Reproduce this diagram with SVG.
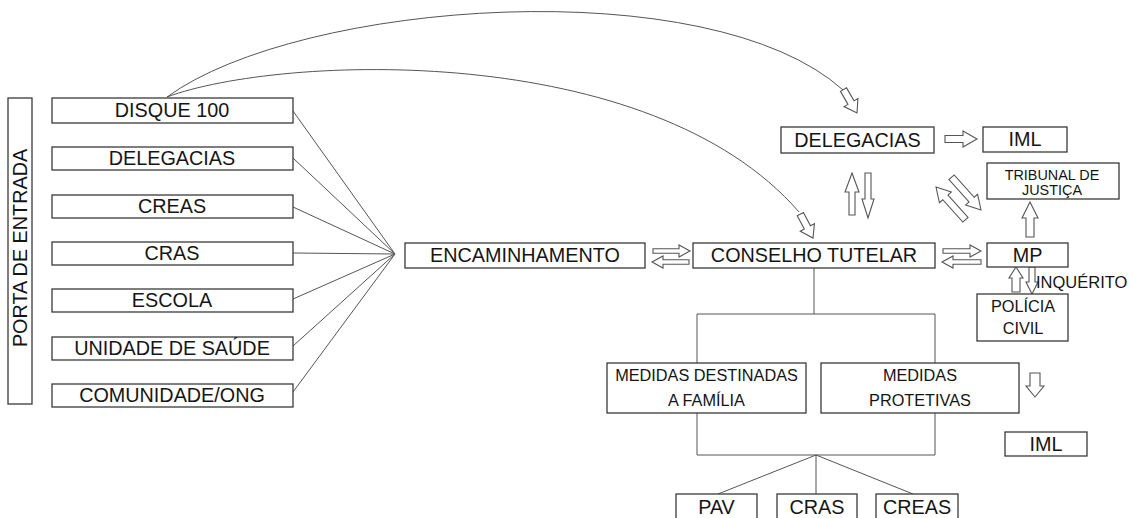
<svg xmlns="http://www.w3.org/2000/svg" width="1132" height="518" viewBox="0 0 1132 518">
<style>
.box{fill:#fff;stroke:#3a3a3a;stroke-width:1.3}
.t{font-family:"Liberation Sans",Arial,sans-serif;fill:#151515;text-anchor:middle}
.t19{font-size:19.8px}
.t16{font-size:16.3px}
.t14{font-size:14.4px}
.ln{fill:none;stroke:#555;stroke-width:1}
.ha{fill:#fff;stroke:#555;stroke-width:1.1;stroke-linejoin:miter}
</style>
<defs>
<path id="ca" d="M0,0 L-12,-8 L-12,-3.5 L-27,-3.5 L-27,3.5 L-12,3.5 L-12,8 Z"/>
<path id="da" d="M0,0 L-14,-8 L-14,-3.5 L-44,-3.5 L-44,3.5 L-14,3.5 L-14,8 Z"/>
</defs>
<rect width="1132" height="518" fill="#fff"/>

<g id="connectors">
  <path class="ln" d="M293,111 L395,254 M293,158 L395,254 M293,207 L395,254 M293,253 L395,254 M293,299 L395,254 M293,346 L395,254 M293,392 L395,254"/>
  <path class="ln" d="M167,97 C300,0 710,-30 843,90"/>
  <path class="ln" d="M167,97 C280,55 650,40 799,212"/>
  <use href="#ca" class="ha" transform="translate(857,113) rotate(60)"/>
  <use href="#ca" class="ha" transform="translate(813,238) rotate(62)"/>
  <polygon class="ha" points="653,248.8 679,248.8 679,245 690,251 679,257 679,253.2 653,253.2"/>
  <polygon class="ha" points="652,262 663,256 663,259.8 689,259.8 689,264.2 663,264.2 663,268"/>
  <polygon class="ha" points="943,248.8 970,248.8 970,245 981,251 970,257 970,253.2 943,253.2"/>
  <polygon class="ha" points="942,262 953,256 953,259.8 981,259.8 981,264.2 953,264.2 953,268"/>
  <polygon class="ha" points="945,135.5 963,135.5 963,131 977,139 963,147 963,142.5 945,142.5"/>
  <polygon class="ha" points="852,173 859,192 855,192 855,215 849,215 849,192 845,192"/>
  <polygon class="ha" points="868,218 874,199 871,199 871,173 865,173 865,199 862,199"/>
  <use href="#da" class="ha" transform="translate(981,210) rotate(48)"/>
  <use href="#da" class="ha" transform="translate(936,187) rotate(228)"/>
  <polygon class="ha" points="1030,202 1038,218 1034,218 1034,237 1026,237 1026,218 1022,218"/>
  <polygon class="ha" points="1016,267 1023,278 1020,278 1020,292 1012,292 1012,278 1009,278"/>
  <polygon class="ha" points="1029,267 1035,267 1035,282 1038,282 1032,294 1026,282 1029,282"/>
  <polygon class="ha" points="1030,373 1040,373 1040,386 1044,386 1035,397 1026,386 1030,386"/>
  <path class="ln" d="M814,268 L814,314 M697,314 L935,314 M697,314 L697,363 M935,314 L935,363"/>
  <path class="ln" d="M697,413 L697,455 M935,413 L935,455 M697,455 L935,455 M816,455 L816,494 M816,455 L718,494 M816,455 L913,494"/>
</g>

<g id="porta"><rect class="box" x="8" y="98" width="24" height="306"/>
<text class="t t19" transform="translate(27,248) rotate(-90)">PORTA DE ENTRADA</text></g>

<g id="disque"><rect class="box" x="52" y="98" width="241" height="25"/><text class="t t19" x="172" y="116.5">DISQUE 100</text></g>
<g id="delegacias-l"><rect class="box" x="52" y="147" width="241" height="23"/><text class="t t19" x="172" y="164.5">DELEGACIAS</text></g>
<g id="creas-l"><rect class="box" x="52" y="195" width="241" height="23"/><text class="t t19" x="172" y="212.5">CREAS</text></g>
<g id="cras-l"><rect class="box" x="52" y="242" width="241" height="23"/><text class="t t19" x="172" y="259.5">CRAS</text></g>
<g id="escola"><rect class="box" x="52" y="289" width="241" height="23"/><text class="t t19" x="172" y="306.5">ESCOLA</text></g>
<g id="unidade"><rect class="box" x="52" y="337" width="241" height="23"/><text class="t t19" x="172" y="354.5">UNIDADE DE SAÚDE</text></g>
<g id="comunidade"><rect class="box" x="52" y="384" width="241" height="23"/><text class="t t19" x="172" y="401.5">COMUNIDADE/ONG</text></g>

<g id="encaminhamento"><rect class="box" x="405" y="243" width="240" height="25"/><text class="t t19" x="525" y="262">ENCAMINHAMENTO</text></g>
<g id="conselho"><rect class="box" x="693" y="243" width="242" height="25"/><text class="t t19" x="814" y="262">CONSELHO TUTELAR</text></g>
<g id="mp"><rect class="box" x="987" y="243" width="81" height="24"/><text class="t t19" x="1027.5" y="262">MP</text></g>
<g id="delegacias-r"><rect class="box" x="781" y="127" width="153" height="26"/><text class="t t19" x="857.5" y="146.5">DELEGACIAS</text></g>
<g id="iml-top"><rect class="box" x="983" y="127" width="84" height="25"/><text class="t t19" x="1025" y="146">IML</text></g>
<g id="tribunal"><rect class="box" x="987" y="163" width="132" height="36"/>
<text class="t t14" x="1052" y="180">TRIBUNAL DE</text><text class="t t14" x="1052" y="195">JUSTIÇA</text></g>
<g id="inquerito"><text class="t" style="font-size:16.5px;text-anchor:start" x="1036" y="288">INQUÉRITO</text></g>
<g id="policia"><rect class="box" x="977" y="294" width="91" height="47"/>
<text class="t t16" x="1023" y="312">POLÍCIA</text><text class="t t16" x="1023" y="334">CIVIL</text></g>
<g id="medidas-familia"><rect class="box" x="607" y="363" width="199" height="50"/>
<text class="t t16" x="706.5" y="381">MEDIDAS DESTINADAS</text><text class="t t16" x="706.5" y="406">A FAMÍLIA</text></g>
<g id="medidas-protetivas"><rect class="box" x="821" y="363" width="198" height="50"/>
<text class="t t16" x="920" y="381">MEDIDAS</text><text class="t t16" x="920" y="406">PROTETIVAS</text></g>
<g id="iml-bottom"><rect class="box" x="1005" y="432" width="82" height="24"/><text class="t t19" x="1046" y="450.5">IML</text></g>
<g id="pav"><rect class="box" x="676" y="494" width="81" height="30"/><text class="t t19" x="716.5" y="514">PAV</text></g>
<g id="cras-b"><rect class="box" x="777" y="494" width="80" height="30"/><text class="t t19" x="817" y="514">CRAS</text></g>
<g id="creas-b"><rect class="box" x="876" y="494" width="82" height="30"/><text class="t t19" x="917" y="514">CREAS</text></g>
</svg>
